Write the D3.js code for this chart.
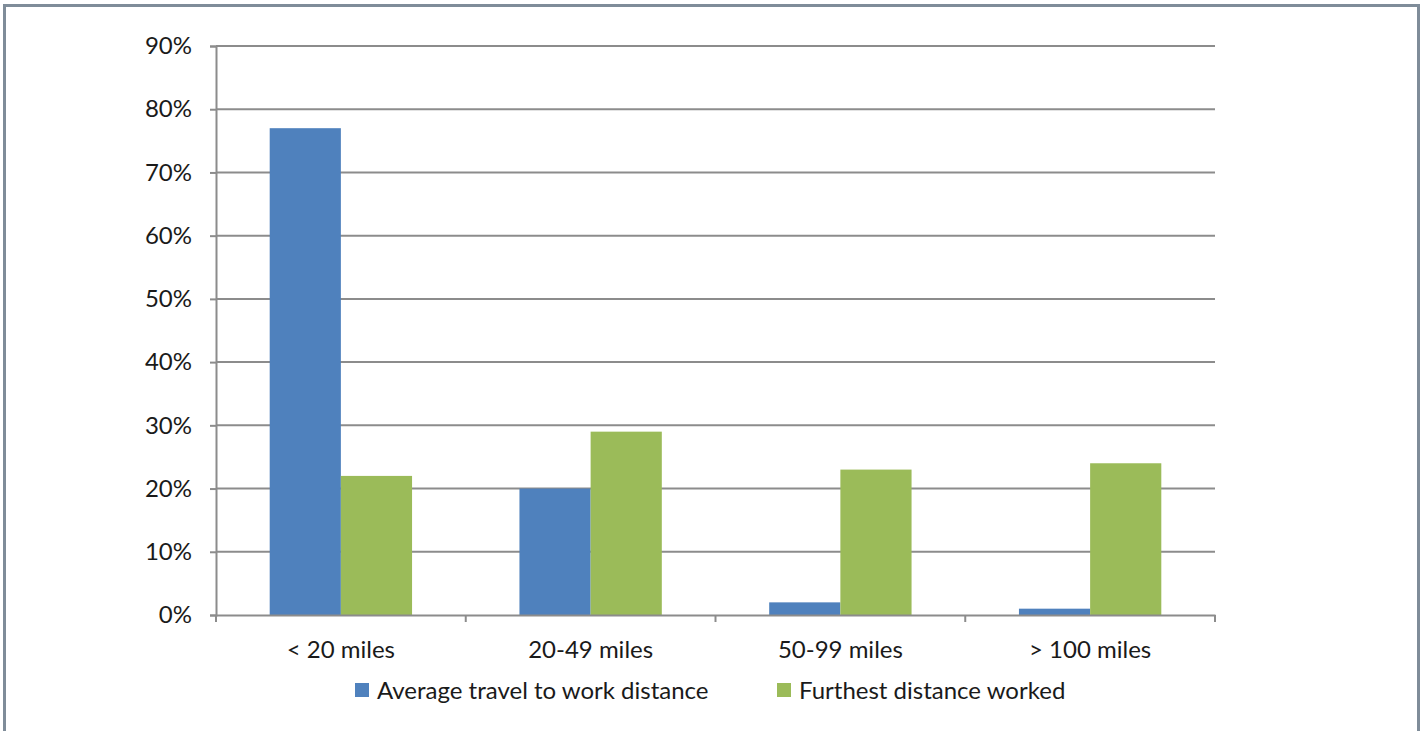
<!DOCTYPE html>
<html><head><meta charset="utf-8">
<script src="https://cdn.jsdelivr.net/npm/d3@7"></script>
<style>
html,body{margin:0;padding:0;background:#fff;}
svg{display:block;}
text{font-family:Lato,"Open Sans",sans-serif;fill:#1a1a1a;}
</style></head>
<body>
<svg id="c" width="1426" height="731"></svg>
<script>
const categories = ["< 20 miles","20-49 miles","50-99 miles","> 100 miles"];
const seriesNames = ["Average travel to work distance","Furthest distance worked"];
const avgTravel = [77, 20, 2, 1];
const furthest = [22, 29, 23, 24];
const yTicks = [0,10,20,30,40,50,60,70,80,90];
const colors = ["#4f81bd","#9bbb59"];

(function(){
const FS = 24;
const svg = d3.select("#c");
// outer frame
svg.append("rect").attr("x",4.5).attr("y",5.5).attr("width",1414).attr("height",740)
  .attr("fill","none").attr("stroke","#7f8c99").attr("stroke-width",3);

const pLeft=216, pRight=1215, pTop=46, pBottom=615;
const x = d3.scaleBand().domain(categories).range([pLeft,pRight]);
const y = d3.scaleLinear().domain([0,90]).range([pBottom,pTop]);
const groupW = x.bandwidth()*0.57;
const inner = d3.scaleBand().domain([0,1]).range([0, groupW]);
const offset = (x.bandwidth() - groupW)/2;

// gridlines
svg.append("g").selectAll("line").data(yTicks.filter(d=>d>0)).join("line")
  .attr("x1",pLeft).attr("x2",pRight).attr("y1",d=>y(d)).attr("y2",d=>y(d))
  .attr("stroke","#8c8c8c").attr("stroke-width",2);

// y axis
const yAxis = svg.append("g").attr("transform",`translate(${pLeft},0)`)
  .call(d3.axisLeft(y).tickValues(yTicks).tickFormat(d=>d+"%").tickSize(6).tickPadding(18));
yAxis.select(".domain").attr("stroke","#8c8c8c").attr("stroke-width",2);
yAxis.selectAll(".tick line").attr("stroke","#8c8c8c").attr("stroke-width",2);
yAxis.selectAll("text").attr("font-size",FS).attr("font-family","Lato").attr("fill","#1a1a1a");

// bars
const data = [avgTravel, furthest];
data.forEach((vals,si)=>{
  svg.append("g").selectAll("rect").data(vals).join("rect")
    .attr("x",(d,i)=>x(categories[i])+offset+inner(si))
    .attr("width",inner.bandwidth())
    .attr("y",d=>y(d)).attr("height",d=>pBottom-y(d))
    .attr("fill",colors[si]);
});

// x axis
const xAxis = svg.append("g").attr("transform",`translate(0,${pBottom})`)
  .call(d3.axisBottom(x).tickSize(0).tickPadding(26));
xAxis.select(".domain").attr("stroke","#8c8c8c").attr("stroke-width",2);
xAxis.selectAll("text").attr("font-size",FS).attr("font-family","Lato").attr("fill","#1a1a1a");
// boundary ticks
const bounds = categories.map(c=>x(c)).concat([pRight]);
svg.append("g").selectAll("line").data(bounds).join("line")
  .attr("x1",d=>d).attr("x2",d=>d).attr("y1",pBottom).attr("y2",pBottom+7)
  .attr("stroke","#8c8c8c").attr("stroke-width",2);

// legend
const legendX = [355, 777];
seriesNames.forEach((n,i)=>{
  const g = svg.append("g").attr("transform",`translate(${legendX[i]},683)`);
  g.append("rect").attr("width",14).attr("height",14).attr("fill",colors[i]);
  g.append("text").attr("x",22).attr("y",16).attr("font-size",FS).text(n);
});
})();
</script>
</body></html>
